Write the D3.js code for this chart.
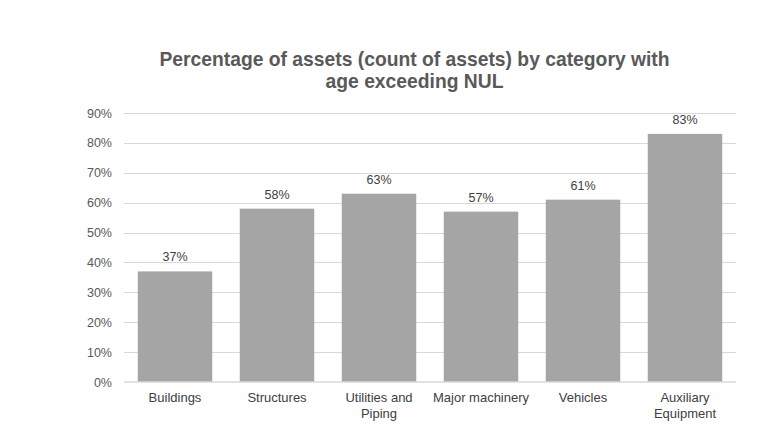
<!DOCTYPE html>
<html>
<head>
<meta charset="utf-8">
<script src="https://cdn.jsdelivr.net/npm/d3@7"></script>
<style>
  body { margin: 0; background: #fff; }
  svg { display: block; font-family: "Liberation Sans", Arial, sans-serif; }
</style>
</head>
<body>
<svg id="chart" width="784" height="435"></svg>
<script>
const categories = [["Buildings"], ["Structures"], ["Utilities and", "Piping"], ["Major machinery"], ["Vehicles"], ["Auxiliary", "Equipment"]];
const values = [37, 58, 63, 57, 61, 83];
const yTicks = [0, 10, 20, 30, 40, 50, 60, 70, 80, 90];
const titleLines = ["Percentage of assets (count of assets) by category with", "age exceeding NUL"];

const svg = d3.select("#chart");
const margin = { left: 124, right: 48, top: 113, bottom: 53 };
const W = 784, H = 435;
const x = d3.scaleBand().domain(d3.range(categories.length)).range([margin.left, W - margin.right]).paddingInner(0.27).paddingOuter(0.135);
const y = d3.scaleLinear().domain([0, 90]).range([H - margin.bottom, margin.top]);

// title
svg.append("text").attr("x", 414.5).attr("y", 65.5).attr("text-anchor", "middle")
  .attr("fill", "#595959").attr("font-size", 19.3).attr("font-weight", "bold")
  .selectAll("tspan").data(titleLines).join("tspan")
  .attr("x", 414.5).attr("dy", (d, i) => i === 0 ? 0 : 22).text(d => d);

// gridlines
svg.append("g").selectAll("line").data(yTicks.filter(d => d > 0)).join("line")
  .attr("x1", margin.left).attr("x2", W - margin.right)
  .attr("y1", d => Math.round(y(d)) + 0.5).attr("y2", d => Math.round(y(d)) + 0.5)
  .attr("stroke", "#d9d9d9").attr("stroke-width", 1);

// y axis labels
const yAxis = d3.axisLeft(y).tickValues(yTicks).tickFormat(d => d + "%").tickSize(0).tickPadding(12);
const gy = svg.append("g").attr("transform", `translate(${margin.left},0)`).call(yAxis);
gy.select(".domain").remove();
gy.selectAll("text").attr("fill", "#595959").attr("font-size", 12.5).attr("font-family", "Liberation Sans, Arial, sans-serif");

// bars
svg.append("g").selectAll("rect").data(values).join("rect")
  .attr("x", (d, i) => x(i)).attr("width", x.bandwidth())
  .attr("y", d => y(d)).attr("height", d => y(0) - y(d))
  .attr("fill", "#a5a5a5");

// baseline
svg.append("line").attr("x1", margin.left).attr("x2", W - margin.right)
  .attr("y1", y(0)).attr("y2", y(0)).attr("stroke", "#d9d9d9").attr("stroke-width", 1.5);

// value labels
svg.append("g").selectAll("text").data(values).join("text")
  .attr("x", (d, i) => x(i) + x.bandwidth() / 2).attr("y", d => y(d) - 10)
  .attr("text-anchor", "middle").attr("fill", "#404040").attr("font-size", 12.5)
  .text(d => d + "%");

// x axis labels
const xg = svg.append("g");
categories.forEach((lines, i) => {
  const t = xg.append("text").attr("x", x(i) + x.bandwidth() / 2).attr("y", y(0) + 20)
    .attr("text-anchor", "middle").attr("fill", "#404040").attr("font-size", 13);
  lines.forEach((l, j) => t.append("tspan").attr("x", x(i) + x.bandwidth() / 2).attr("dy", j === 0 ? 0 : 16).text(l));
});
</script>
</body>
</html>
